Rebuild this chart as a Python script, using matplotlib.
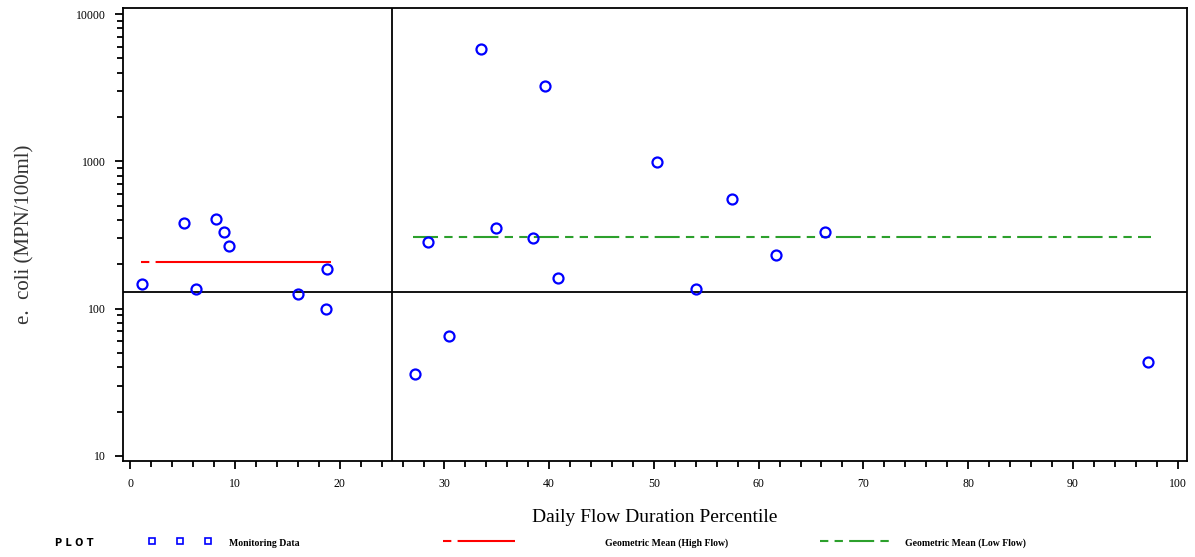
import matplotlib
matplotlib.use("Agg")
import matplotlib.pyplot as plt
from matplotlib.lines import Line2D
from matplotlib.ticker import LogLocator, FixedLocator, NullFormatter

# monitoring data: flow duration percentile vs e. coli
pct = [1.15, 5.1, 6.3, 8.2, 8.9, 9.45, 16.0, 18.8, 18.7,
       27.2, 28.4, 30.4, 33.5, 34.9, 38.5, 39.6, 40.8,
       50.3, 54.0, 57.5, 61.7, 66.3, 97.2]
ecoli = [146, 384, 135, 408, 333, 268, 126, 186, 100,
         36, 285, 65, 5820, 355, 303, 3265, 162,
         995, 135, 558, 233, 333, 43.6]

high_x = [1.05, 19.2]
high_gm = 208
low_x = [27.0, 97.5]
low_gm = 308

split_pct = 25
ref_line = 130

xticks = [0, 10, 20, 30, 40, 50, 60, 70, 80, 90, 100]
yticks = [10, 100, 1000, 10000]

serif = ['Liberation Serif', 'DejaVu Serif']

fig = plt.figure(figsize=(11.95, 5.57), dpi=100)
ax = fig.add_axes([0.1029, 0.1724, 0.8904, 0.8133])

ax.plot(pct, ecoli, 'o', mfc='none', mec='#0000ff', ms=7.2, mew=1.6, zorder=3)
ax.plot(high_x, [high_gm, high_gm], color='#ff0000', lw=1.5,
        linestyle=(0, (4, 3, 400, 1)))
ax.plot(low_x, [low_gm, low_gm], color='#2ca02c', lw=1.5,
        linestyle=(0, (12, 3, 4, 3, 4, 3)))
ax.axvline(split_pct, color='black', lw=1.3)
ax.axhline(ref_line, color='black', lw=1.3)

ax.set_yscale('log')
ax.set_xlim(-0.7, 100.9)
ax.set_ylim(9.25, 11000)
ax.set_xticks(xticks)
ax.xaxis.set_minor_locator(FixedLocator([v for v in range(0, 101, 2) if v % 10]))
ax.set_yticks(yticks)
ax.set_yticklabels([str(v) for v in yticks])
ax.yaxis.set_minor_locator(LogLocator(base=10, subs=range(2, 10)))
ax.yaxis.set_minor_formatter(NullFormatter())
ax.tick_params(which='major', length=6, width=1.3, direction='out', labelsize=8.5, pad=6)
ax.tick_params(which='minor', length=4, width=1.3, direction='out')
for lab in ax.get_xticklabels() + ax.get_yticklabels():
    lab.set_family(serif)
for sp in ax.spines.values():
    sp.set_linewidth(1.3)

ax.set_xlabel('Daily Flow Duration Percentile', family=serif, fontsize=14, labelpad=14)
ax.set_ylabel('e.  coli (MPN/100ml)', family=serif, fontsize=15, labelpad=30,
              color='#333333')

# legend row
ly = 0.025
fig.text(0.046, ly, 'P L O T', family='DejaVu Sans', fontsize=7, weight='bold', va='center')
for xx in [0.127, 0.151, 0.174]:
    fig.add_artist(Line2D([xx], [ly + 0.003], marker='s', ms=4, mfc='none',
                          mec='#0000ff', mew=1.2, transform=fig.transFigure))
fig.text(0.192, ly, 'Monitoring Data', family=serif, fontsize=7, weight='bold', va='center')
fig.add_artist(Line2D([0.371, 0.431], [ly + 0.003] * 2, color='#ff0000', lw=1.5,
                      linestyle=(0, (4, 3, 400, 1)), transform=fig.transFigure))
fig.text(0.506, ly, 'Geometric Mean (High Flow)', family=serif, fontsize=7,
         weight='bold', va='center')
fig.add_artist(Line2D([0.686, 0.745], [ly + 0.003] * 2, color='#2ca02c', lw=1.5,
                      linestyle=(0, (4, 3, 4, 3, 12, 3)), transform=fig.transFigure))
fig.text(0.757, ly, 'Geometric Mean (Low Flow)', family=serif, fontsize=7,
         weight='bold', va='center')

fig.savefig('out.png', dpi=100)
